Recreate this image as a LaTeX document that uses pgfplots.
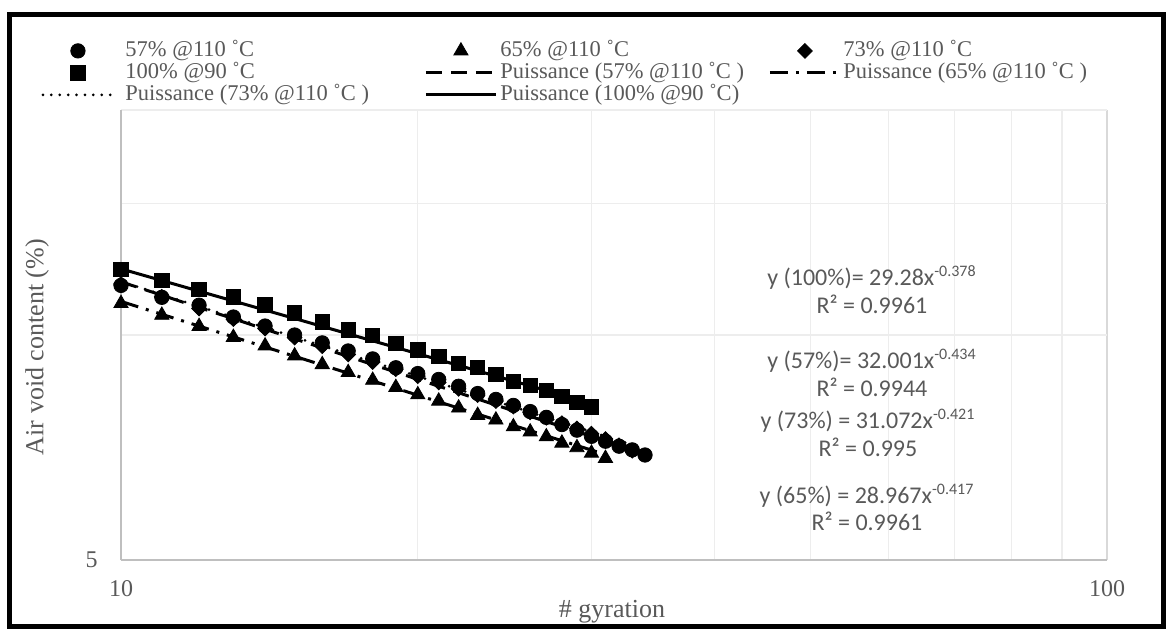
\documentclass[border=0pt]{standalone}
\usepackage{pgfplots}
\pgfplotsset{compat=1.18}
\usepackage{fontspec}
\setmainfont{Liberation Serif}
\newfontfamily\calibri{Carlito}
\definecolor{txt}{HTML}{595959}
\definecolor{axisgray}{HTML}{BFBFBF}
\definecolor{majgrid}{HTML}{D9D9D9}
\definecolor{mingrid}{HTML}{EDEDED}

\pgfplotsset{
  marklegend/.style={legend image code/.code={%
    \path (0pt,0pt) (35pt,0pt);
    \draw[mark repeat=2,mark phase=2,##1] plot coordinates {(0pt,0pt) (17.5pt,0pt) (35pt,0pt)};}},
  linelegend/.style={legend image code/.code={%
    \draw[##1] (0pt,0pt) -- (35pt,0pt);}},
}

\begin{document}
\begin{tikzpicture}[x=0.5pt,y=0.5pt]
\useasboundingbox (0,0) rectangle (1166,629);
\begin{axis}[
  at={(60.5pt,34.5pt)}, anchor=south west,
  scale only axis, width=493pt, height=225pt,
  xmode=log, ymode=log,
  xmin=10, xmax=100, ymin=5, ymax=20,
  xtick={10,100}, xticklabels={10,100},
  minor xtick={20,30,40,50,60,70,80,90},
  ytick={5}, yticklabels={5},
  minor ytick={10,15,20},
  grid=both,
  major grid style={draw=majgrid, line width=0.7pt},
  minor grid style={draw=mingrid, line width=0.7pt},
  axis lines*=left,
  axis line style={draw=axisgray, line width=0.9pt, -},
  major tick length=0pt, minor tick length=0pt,
  tick label style={font=\fontsize{12}{14}\selectfont, text=txt},
  xticklabel style={anchor=center, yshift=-14.5pt},
  yticklabel style={anchor=east, inner sep=0pt, xshift=-11.5pt},
  xlabel={\# gyration}, ylabel={Air void content (\%)},
  label style={font=\fontsize{13}{15}\selectfont, text=txt},
  xlabel style={at={(axis description cs:0.498,-0.115)}, anchor=center},
  ylabel style={at={(axis description cs:-0.0852,0.473)}, anchor=center},
  legend columns=3,
  legend cell align=left,
  legend style={at={(axis description cs:-0.0811,1.1556)}, anchor=north west,
    draw=none, fill=none, font=\fontsize{11.25}{13}\selectfont, text=txt,
    inner sep=0pt, row sep=0.5pt, column sep=0pt,
    nodes={inner sep=0pt, text height=8pt, text depth=2.5pt}},
]
% 57 % @ 110 C
\addplot[only marks, black, mark=*, mark size=3.6pt, marklegend] coordinates {
 (10,11.65) (11,11.23) (12,10.96) (13,10.57) (14,10.28) (15,10.00) (16,9.76)
 (17,9.52) (18,9.29) (19,9.04) (20,8.88) (21,8.72) (22,8.54) (23,8.35) (24,8.20)
 (25,8.05) (26,7.90) (27,7.76) (28,7.59) (29,7.46) (30,7.32) (31,7.21) (32,7.10)
 (33,7.02) (34,6.91)};
\addlegendentry{\makebox[155pt][l]{\hspace{5.5pt}57\% @110 ˚C}}
% 65 % @ 110 C
\addplot[only marks, black, mark=triangle*, mark size=4.1pt, marklegend] coordinates {
 (10,11.02) (11,10.63) (12,10.27) (13,9.93) (14,9.67) (15,9.38) (16,9.13)
 (17,8.91) (18,8.70) (19,8.51) (20,8.32) (21,8.16) (22,7.99) (23,7.81) (24,7.70)
 (25,7.54) (26,7.42) (27,7.31) (28,7.17) (29,7.07) (30,6.95) (31,6.84)};
\addlegendentry{\makebox[135.5pt][l]{\hspace{1.5pt}65\% @110 ˚C}}
% 73 % @ 110 C
\addplot[only marks, black, mark=square*, mark options={rotate=45}, mark size=2.6pt, marklegend] coordinates {
 (10,11.70) (11,11.25) (12,10.85) (13,10.50) (14,10.20) (15,9.92) (16,9.66)
 (17,9.42) (18,9.20) (19,9.00) (20,8.81) (21,8.64) (22,8.47) (23,8.31) (24,8.16)
 (25,8.02) (26,7.88) (27,7.75) (28,7.62) (29,7.50) (30,7.38) (31,7.26) (32,7.12)
 (33,7.00)};
\addlegendentry{\hspace{1pt}73\% @110 ˚C}
% 100 % @ 90 C
\addplot[only marks, black, mark=square*, mark size=3.6pt, marklegend] coordinates {
 (10,12.24) (11,11.84) (12,11.51) (13,11.24) (14,10.97) (15,10.71) (16,10.41)
 (17,10.16) (18,9.98) (19,9.74) (20,9.55) (21,9.36) (22,9.16) (23,9.05) (24,8.86)
 (25,8.67) (26,8.56) (27,8.43) (28,8.28) (29,8.13) (30,8.01)};
\addlegendentry{\makebox[155pt][l]{\hspace{5.5pt}100\% @90 ˚C}}
% power trend lines
\addplot[black, line width=1.5pt, dash pattern=on 8pt off 4.5pt, linelegend]
 coordinates {(10,11.78) (34,6.93)};
\addlegendentry{\makebox[135.5pt][l]{\hspace{1.5pt}Puissance (57\% @110 ˚C )}}
\addplot[black, line width=1.5pt, dash pattern=on 9pt off 4pt on 1.5pt off 4pt, linelegend]
 coordinates {(10,11.09) (31,6.92)};
\addlegendentry{\hspace{1pt}Puissance (65\% @110 ˚C )}
\addplot[black, line width=1.5pt, line cap=round, dash pattern=on 0pt off 4.2pt, linelegend]
 coordinates {(10,11.79) (33,7.13)};
\addlegendentry{\makebox[155pt][l]{\hspace{5.5pt}Puissance (73\% @110 ˚C )}}
\addplot[black, line width=1.5pt, linelegend]
 coordinates {(10,12.26) (30,8.10)};
\addlegendentry{\makebox[135.5pt][l]{\hspace{1.5pt}Puissance (100\% @90 ˚C)}}
\end{axis}

% fitted equations
\begin{scope}[every node/.style={anchor=base, text=txt, inner sep=0pt,
    font=\calibri\fontsize{12}{14}\selectfont}]
\node at (872,344) {y (100\%)= 29.28x\textsuperscript{-0.378}};
\node at (872,316) {R² = 0.9961};
\node at (872,261) {y (57\%)= 32.001x\textsuperscript{-0.434}};
\node at (872,233) {R² = 0.9944};
\node at (868,201) {y (73\%) = 31.072x\textsuperscript{-0.421}};
\node at (868,173) {R² = 0.995};
\node at (867,126) {y (65\%) = 28.967x\textsuperscript{-0.417}};
\node at (867,99) {R² = 0.9961};
\end{scope}

% chart frame
\draw[line width=2.5pt, black] (9.5,2.5) rectangle (1163.5,614.5);
\end{tikzpicture}
\end{document}
